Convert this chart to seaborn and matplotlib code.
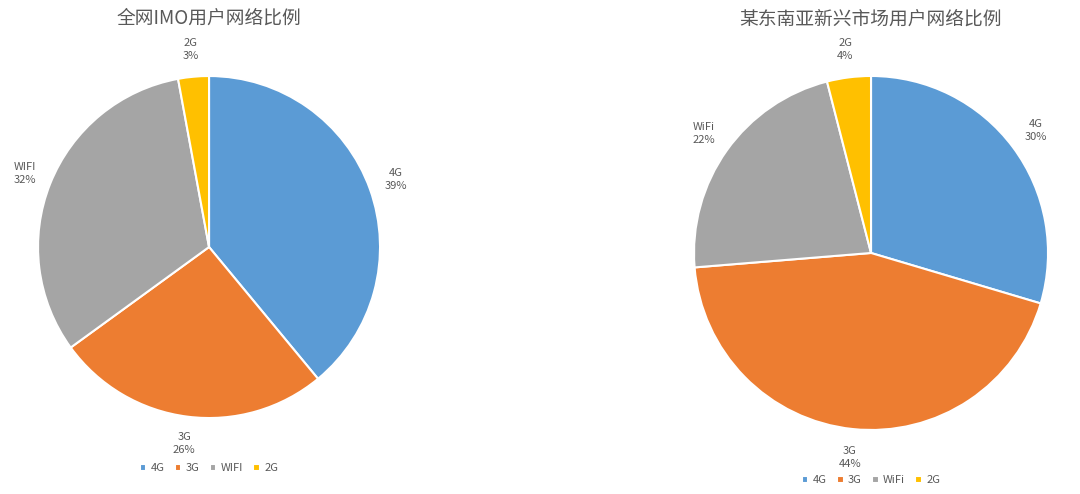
import matplotlib
matplotlib.use("Agg")
import matplotlib.pyplot as plt
import seaborn as sns

# --- Data ---
left_title = "全网IMO用户网络比例"
left_labels = ["4G", "3G", "WIFI", "2G"]
left_values = [39.0, 26.0, 32.1, 2.9]

right_title = "某东南亚新兴市场用户网络比例"
right_labels = ["4G", "3G", "WiFi", "2G"]
right_values = [29.6, 44.1, 22.3, 4.0]

colors = ["#5B9BD5", "#ED7D31", "#A5A5A5", "#FFC000"]
text_color = "#595959"

sns.set_theme(style="white")
plt.rcParams["font.family"] = ["Noto Sans CJK SC", "DejaVu Sans"]

fig = plt.figure(figsize=(10.8, 4.94), dpi=100)


def draw_pie(rect, labels, values, title, title_y, legend_y):
    ax = fig.add_axes(rect)
    texts = [f"{l}\n{round(v)}%" for l, v in zip(labels, values)]
    wedges, lbls = ax.pie(values, labels=texts, colors=colors, startangle=90,
                          counterclock=False, labeldistance=1.16,
                          wedgeprops=dict(edgecolor="white", linewidth=1.5),
                          textprops=dict(color=text_color, fontsize=8, ha="center",
                                         va="center", linespacing=1.4))
    for t in lbls:
        t.set_horizontalalignment("center")
        t.set_clip_on(False)
    ax.set_xlim(-1, 1)
    ax.set_ylim(-1, 1)
    ax.set_aspect("equal")
    ax.axis("off")
    cx = rect[0] + rect[2] / 2
    fig.text(cx, title_y, title, ha="center", va="center", fontsize=13.5, color=text_color)
    fig.legend(wedges, labels, loc="center", bbox_to_anchor=(cx, legend_y), ncol=4,
               frameon=False, fontsize=8, labelcolor=text_color, handlelength=0.6,
               handleheight=0.6, handletextpad=0.4, columnspacing=0.9)


draw_pie([0.0352, 0.1538, 0.3167, 0.6923], left_labels, left_values, left_title,
         1 - 18 / 494, 1 - 468 / 494)
draw_pie([0.6426, 0.1296, 0.3278, 0.7166], right_labels, right_values, right_title,
         1 - 19 / 494, 1 - 480 / 494)

fig.savefig("out.png", dpi=100, facecolor="white")
